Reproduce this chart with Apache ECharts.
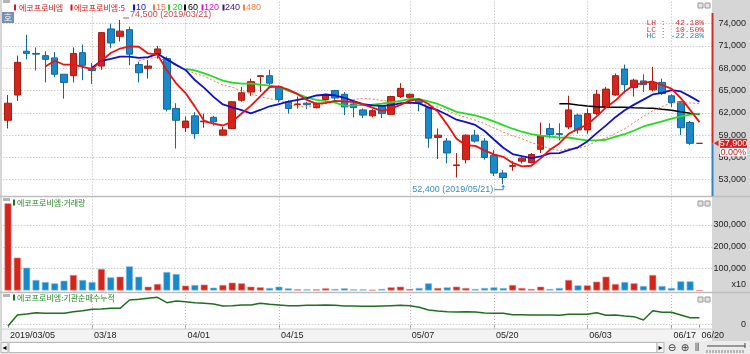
<!DOCTYPE html>
<html>
<head>
<meta charset="utf-8">
<script src="https://cdn.jsdelivr.net/npm/echarts@6/dist/echarts.min.js"></script>
<style>
  html, body { margin: 0; padding: 0; background: #fff; }
  #chart { width: 750px; height: 354px; }
</style>
</head>
<body>
<div id="chart"></div>
<script>
// trading days shown on the chart
const dates = [
  '2019/03/05','2019/03/06','2019/03/07','2019/03/08','2019/03/11','2019/03/12','2019/03/13','2019/03/14','2019/03/15','2019/03/18',
  '2019/03/19','2019/03/20','2019/03/21','2019/03/22','2019/03/25','2019/03/26','2019/03/27','2019/03/28','2019/03/29','2019/04/01',
  '2019/04/02','2019/04/03','2019/04/04','2019/04/05','2019/04/08','2019/04/09','2019/04/10','2019/04/11','2019/04/12','2019/04/15',
  '2019/04/16','2019/04/17','2019/04/18','2019/04/19','2019/04/22','2019/04/23','2019/04/24','2019/04/25','2019/04/26','2019/04/29',
  '2019/04/30','2019/05/02','2019/05/03','2019/05/07','2019/05/08','2019/05/09','2019/05/10','2019/05/13','2019/05/14','2019/05/15',
  '2019/05/16','2019/05/17','2019/05/20','2019/05/21','2019/05/22','2019/05/23','2019/05/24','2019/05/27','2019/05/28','2019/05/29',
  '2019/05/30','2019/05/31','2019/06/03','2019/06/04','2019/06/05','2019/06/07','2019/06/10','2019/06/11','2019/06/12','2019/06/13',
  '2019/06/14','2019/06/17','2019/06/18','2019/06/19','2019/06/20'
];

const openP = [
  61000,64400,70300,70000,69700,69400,67200,67000,70100,68000,
  68300,73300,72300,73200,68500,68000,69900,69300,62600,60000,
  61600,60800,61400,59000,59900,63700,64800,66900,67000,65500,
  63500,63100,63300,62700,63800,65000,64500,63200,62400,61600,
  62900,61800,64200,64100,63800,62700,58700,58200,54900,55700,
  59000,58200,56300,53900,54800,55500,55300,57100,59900,59200,
  60100,61700,59700,61900,62800,64400,67900,65400,66300,65100,
  66100,64300,63500,60700,57900
];
const highP = [
  64400,69700,72500,70800,70300,70200,67200,70800,71200,68700,
  72900,74000,74500,73600,68900,69100,71000,69600,63300,61500,
  62100,61900,61600,60100,63600,65500,66600,67100,67800,65700,
  63700,64200,63500,63400,64600,65100,64800,63400,62600,62500,
  63100,64300,66000,64600,64000,62800,59900,58600,56600,59100,
  59700,58600,57000,54300,55500,56100,56600,60700,60600,60600,
  64300,61900,62600,65100,65500,67300,68500,66600,67200,68200,
  66600,64500,63600,60900,57900
];
const lowP = [
  59900,63600,69200,67700,66100,66800,63900,66100,66400,65900,
  67800,70700,71600,68400,66100,66600,69300,62200,57200,59400,
  58500,60000,60300,58900,59800,63500,64300,64800,65700,63400,
  61900,62600,62500,62600,63200,63500,61700,61400,61300,61400,
  61300,61700,64000,63300,62200,57300,55800,55200,53300,55200,
  58000,55700,53500,52400,54200,55200,55200,56600,58600,58300,
  59800,59200,59200,61700,62600,64300,64600,64200,64800,64900,
  64400,62800,59000,57700,57900
];
const closeP = [
  63300,68800,70000,69900,69200,67200,66100,70000,68400,67700,
  72800,71400,73000,69900,67400,68300,70600,62500,61000,60900,
  59200,60900,60800,59700,63500,64700,66200,67000,66000,63800,
  62600,63200,63100,63300,64500,64000,62800,62700,61700,62300,
  61900,64200,65300,64500,63400,58600,59000,56600,55000,59000,
  58200,56000,53900,53300,54900,55900,56400,58900,59100,59100,
  62400,59700,61900,64500,65200,67000,65800,66400,65800,66100,
  64600,63400,60000,57900,57900
];
// 거래량 (x10)
const volume = [
  399000,150300,104500,48100,38900,32800,45000,70900,48100,38900,
  98400,60300,63300,110600,63300,17500,29800,84700,75500,22100,
  25200,26700,13000,25200,35800,32800,17500,14500,11400,17500,
  9900,5300,5300,5300,9900,6900,9900,5300,5300,3500,
  6900,14500,17500,6900,11400,32800,11400,14500,17500,11400,
  6900,11400,14500,11400,25200,11400,6900,17500,6900,11400,
  48100,23600,23600,40400,63300,29800,38900,32800,20600,70900,
  20600,11400,42000,42000,0
];
// 기관순매수누적
const instNet = [
  -4000,29000,32000,36000,34000,34000,34000,39000,42000,46000,
  47000,49000,49000,74000,76000,79000,82000,66000,71000,69000,
  66000,64000,62000,56000,57000,59000,59000,64000,61000,59000,
  57000,57000,58000,58000,59000,58000,56000,56000,55000,55000,
  56000,57000,58000,57000,52000,44000,41000,39000,38000,39000,
  38000,35000,34000,34000,30000,30000,29000,29000,29000,28000,
  31000,31000,31000,36000,28000,29000,26000,24000,14000,42000,
  37000,37000,29000,21000,21000
];

const priceTicks = [53000, 56000, 59000, 62000, 65000, 68000, 71000, 74000];
const volTicks = [100000, 200000, 300000];
const dateTickIdx = [0, 9, 19, 29, 43, 52, 62, 71, 74];
const gridIdx = [9, 19, 29, 43, 52, 62, 71];

const maList = [
  { n: 60, color: '#000000', width: 1.5, type: 'solid' },
  { n: 20, color: '#22dd22', width: 1.8, type: 'solid' },
  { n: 15, color: '#f07850', width: 1, type: [2, 2] },
  { n: 10, color: '#1010c8', width: 1.8, type: 'solid' },
  { n: 5, color: '#ee1111', width: 1.8, type: 'solid' }
];

const RED = '#d2261c', RED_B = '#a81c14', BLUE = '#1a89c9', BLUE_B = '#14699a';
const FONT = '"Liberation Sans", "Noto Sans CJK KR", sans-serif';
const KFONT = '8px "Noto Sans CJK KR"';
const NFONT = '9px "Liberation Sans"';
const GRID_LINE = { type: [1, 2], color: '#b4b4b4', width: 1 };

const fmt = v => v.toLocaleString('en-US');
const xCats = dates.concat(['']);   // one empty slot on the right edge

function calcMA(n) {
  return closeP.map((c, i) => {
    if (i < n - 1) return '-';
    let s = 0;
    for (let k = i - n + 1; k <= i; k++) s += closeP[k];
    return Math.round(s / n);
  });
}

function vLines() {
  return gridIdx.map(i => ({ xAxis: dates[i] }));
}

function markGrid(extra) {
  return {
    silent: true, symbol: 'none', z: 1, animation: false,
    label: { show: false }, emphasis: { disabled: true },
    lineStyle: GRID_LINE,
    data: vLines().concat(extra)
  };
}

const chart = echarts.init(document.getElementById('chart'));

const gridBase = { left: 3.3, right: 36.5, outerBoundsMode: 'none' };
const isTick = idx => dateTickIdx.indexOf(idx) >= 0;

const option = {
  animation: false,
  textStyle: { fontFamily: FONT },
  grid: [
    Object.assign({ top: 0, bottom: 354 - 194.6 }, gridBase),
    Object.assign({ top: 197, bottom: 354 - 290.5 }, gridBase),
    Object.assign({ top: 293, bottom: 354 - 329 }, gridBase)
  ],
  xAxis: [
    { type: 'category', gridIndex: 0, data: xCats, show: false },
    { type: 'category', gridIndex: 1, data: xCats, show: false },
    {
      type: 'category', gridIndex: 2, data: xCats,
      axisLine: { show: false },
      axisTick: { show: true, alignWithLabel: true, interval: isTick, length: 3, lineStyle: { color: '#999' } },
      axisLabel: {
        interval: isTick, align: 'left', margin: 2, fontSize: 9, color: '#222',
        padding: [0, 0, 0, 2],
        formatter: (v, idx) => idx === 0 ? v : v.slice(5)
      },
      splitLine: { show: false }
    }
  ],
  yAxis: [
    {
      type: 'value', gridIndex: 0, position: 'right', min: 51000, max: 77190, interval: 1000,
      axisLine: { show: false }, axisTick: { show: false }, splitLine: { show: false },
      axisLabel: { align: 'right', margin: 32.5, fontSize: 9, color: '#222',
        formatter: v => priceTicks.indexOf(v) >= 0 ? fmt(v) : '' }
    },
    {
      type: 'value', gridIndex: 1, position: 'right', min: 0, max: 428000, interval: 100000,
      axisLine: { show: false }, axisTick: { show: false }, splitLine: { show: false },
      axisLabel: { align: 'right', margin: 32.5, fontSize: 9, color: '#222',
        formatter: v => volTicks.indexOf(v) >= 0 ? fmt(v) : '' }
    },
    {
      type: 'value', gridIndex: 2, position: 'right', min: -13000, max: 95000, interval: 1000,
      axisLine: { show: false }, axisTick: { show: false }, splitLine: { show: false },
      axisLabel: { align: 'right', margin: 32.5, fontSize: 9, color: '#222',
        formatter: v => v === 0 ? '0' : '' }
    }
  ],
  series: [
    {
      type: 'candlestick', xAxisIndex: 0, yAxisIndex: 0, barWidth: 7,
      data: openP.map((o, i) => [o, closeP[i], lowP[i], highP[i]]),
      itemStyle: { color: RED, color0: BLUE, borderColor: RED_B, borderColor0: BLUE_B, borderWidth: 1 },
      markLine: markGrid(priceTicks.map(v => ({ yAxis: v })))
    }
  ].concat(maList.map(m => ({
    type: 'line', xAxisIndex: 0, yAxisIndex: 0, data: calcMA(m.n),
    showSymbol: false, symbol: 'none', silent: true,
    lineStyle: { color: m.color, width: m.width, type: m.type }
  }))).concat([
    {
      type: 'bar', xAxisIndex: 1, yAxisIndex: 1, barWidth: 7,
      data: volume.map((v, i) => ({
        value: v,
        itemStyle: closeP[i] >= openP[i]
          ? { color: RED, borderColor: '#e88a84', borderWidth: 0.6 }
          : { color: BLUE, borderColor: '#8cc6e6', borderWidth: 0.6 }
      })),
      markLine: markGrid(volTicks.map(v => ({ yAxis: v })))
    },
    {
      type: 'line', xAxisIndex: 2, yAxisIndex: 2, data: instNet,
      showSymbol: false, symbol: 'none', silent: true,
      lineStyle: { color: '#1f6f1f', width: 1.5 },
      markLine: markGrid([{ yAxis: 0 }])
    }
  ])
};

chart.setOption(option);

// decorations and annotations, placed from the data through the axes
const hiIdx = highP.indexOf(Math.max(...highP));
const loIdx = lowP.indexOf(Math.min(...lowP));
const last = closeP.length - 1;
const hiPt = chart.convertToPixel({ gridIndex: 0 }, [hiIdx, highP[hiIdx]]);
const loPt = chart.convertToPixel({ gridIndex: 0 }, [loIdx, lowP[loIdx]]);
const lastPt = chart.convertToPixel({ gridIndex: 0 }, [last, closeP[last]]);
const hi = highP[hiIdx], lo = lowP[loIdx], cur = closeP[last];
const pct = v => (v >= 0 ? ' ' : '') + v.toFixed(2) + '%';

const G = [];
const rect = (x, y, w, h, fill, stroke, z) => G.push({
  type: 'rect', z: z == null ? -10 : z, silent: true,
  shape: { x, y, width: w, height: h },
  style: { fill, stroke: stroke || null, lineWidth: 1 }
});
const line = (x1, y1, x2, y2, stroke, w, z) => G.push({
  type: 'line', z: z == null ? 50 : z, silent: true,
  shape: { x1, y1, x2, y2 }, style: { stroke, lineWidth: w || 1 }
});
const text = (x, y, t, fill, font, align) => G.push({
  type: 'text', z: 60, silent: true, x, y,
  style: { text: t, fill, font, textAlign: align || 'left', textVerticalAlign: 'middle' }
});

// panels and frame
rect(712, 0, 38, 342, '#d6d6d6');
rect(0, 0, 2, 342, '#d6d6d6');
rect(2, 329, 710, 12, '#f3f3f3');
line(0, 196.5, 750, 196.5, '#bdbdbd', 1.5, 40);
line(0, 292.5, 750, 292.5, '#bdbdbd', 1.5, 40);
line(2, 329, 712, 329, '#cfcfcf', 1, 40);
[0, 198, 294].forEach(y => {
  rect(3, y, 7, 3, '#b5b5b5', null, 45);
  rect(698, y + 3, 5, 5, '#e4e4e4', '#9a9a9a', 45);
  rect(705, y + 3, 5, 5, '#e4e4e4', '#9a9a9a', 45);
});

// scroll bar strip
rect(0, 341, 750, 13, '#ececec', null, 45);
rect(9, 342.5, 648, 10, '#ffffff', '#b8b8b8', 46);
rect(1, 342.5, 7, 10, '#f4f4f4', '#b8b8b8', 46);
text(4.5, 348, '◂', '#000', '8px "DejaVu Sans"', 'center');
rect(657, 342.5, 7, 10, '#f4f4f4', '#b8b8b8', 46);
text(660.5, 348, '▸', '#000', '8px "DejaVu Sans"', 'center');
text(672, 348, '⊖', '#333', '10px "DejaVu Sans"', 'center');
text(685, 348, '⊕', '#333', '10px "DejaVu Sans"', 'center');
text(697, 348, '⫼', '#333', '9px "DejaVu Sans"', 'center');
line(707, 346, 745, 346, '#444', 1, 47);
line(745, 343, 745, 348, '#444', 1, 47);
for (let x = 707; x <= 745; x += 3) line(x, 350, x, 353, '#666', 0.8, 47);

// 호 box
rect(2, 12, 12, 11, '#7890b2', null, 45);
text(8, 17.5, '호', '#ffffff', '9px "Noto Sans CJK KR"', 'center');

// legend row
const legendItems = [
  { x: 14, tx: 19, t: '에코프로비엠', c: '#c41e1e', f: KFONT },
  { x: 70.5, tx: 74, t: '에코프로비엠:5', c: '#e01010', f: KFONT },
  { x: 133, tx: 136, t: '10', c: '#1010d0', f: NFONT },
  { x: 153, tx: 156, t: '15', c: '#f07850', f: NFONT },
  { x: 168, tx: 172.5, t: '20', c: '#22cc22', f: NFONT },
  { x: 184, tx: 188, t: '60', c: '#000000', f: NFONT },
  { x: 201.5, tx: 204, t: '120', c: '#e010d0', f: NFONT },
  { x: 222.5, tx: 225, t: '240', c: '#3a1880', f: NFONT },
  { x: 243, tx: 246, t: '480', c: '#ff8040', f: NFONT }
];
legendItems.forEach(it => {
  rect(it.x, 4.5, 2, 6, it.c, null, 55);
  text(it.tx, 8, it.t, it.c, it.f);
});

// sub panel titles
rect(13, 199.5, 2, 6, '#1e6e1e', null, 55);
text(17, 202.5, '에코프로비엠:거래량', '#2b8a2b', KFONT);
rect(13, 294.5, 2, 6, '#1e6e1e', null, 55);
text(17, 297.5, '에코프로비엠:기관순매수누적', '#2b8a2b', KFONT);
text(746, 285, 'x10', '#222', NFONT, 'right');

// range stats
const MONO = '8px "Liberation Mono"';
text(704, 23, 'LH : ' + pct((hi / lo - 1) * 100), '#cc3333', MONO, 'right');
text(704, 29.5, 'LC : ' + pct((cur / lo - 1) * 100), '#cc3333', MONO, 'right');
text(704, 36, 'HC : ' + pct((cur / hi - 1) * 100), '#2a7fc0', MONO, 'right');

// high / low labels
line(hiPt[0] + 3, hiPt[1] - 2, hiPt[0] + 9, hiPt[1] - 2, '#c0504d', 1);
text(hiPt[0] + 10, hiPt[1] - 5, fmt(hi) + ' (' + dates[hiIdx] + ')', '#c0504d', NFONT);
text(loPt[0] - 10, loPt[1] + 5, fmt(lo) + ' (' + dates[loIdx] + ')', '#3c8dc4', NFONT, 'right');
line(loPt[0] - 9, loPt[1] + 5.5, loPt[0], loPt[1] + 5.5, '#3c8dc4', 1);
line(loPt[0], loPt[1] + 5.5, loPt[0], loPt[1] + 2, '#3c8dc4', 1);
G.push({ type: 'polygon', z: 50, silent: true,
  shape: { points: [[loPt[0], loPt[1] + 0.5], [loPt[0] - 2, loPt[1] + 3], [loPt[0] + 2, loPt[1] + 3]] },
  style: { fill: '#3c8dc4' } });

// current price marker on the right scale
const cy = lastPt[1];
line(712.5, 13, 712.5, cy, '#d42a20', 2, 48);
line(712.5, cy, 712.5, 196, '#2a86c6', 2, 48);
G.push({ type: 'polygon', z: 50, silent: true,
  shape: { points: [[714, cy], [718.5, cy - 3], [718.5, cy + 3]] }, style: { fill: '#d42a20' } });
rect(720, cy - 4.5, 27, 9, '#cc2222', null, 55);
text(733.5, cy, fmt(cur), '#ffffff', NFONT, 'center');
rect(720, cy + 5, 27, 8, '#ffffff', null, 55);
text(746, cy + 9, ((closeP[last] / closeP[last - 1] - 1) * 100).toFixed(2) + '%', '#cc2222', NFONT, 'right');

chart.setOption({ graphic: G });
</script>
</body>
</html>
